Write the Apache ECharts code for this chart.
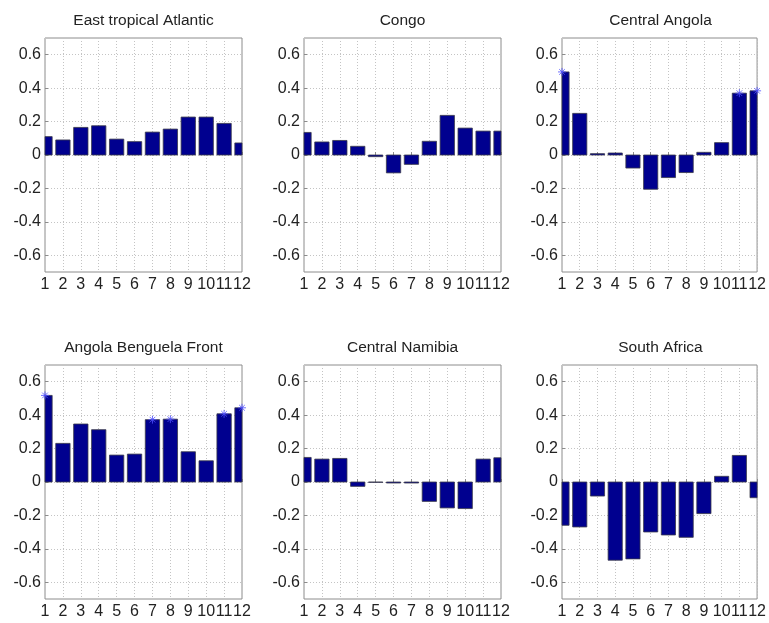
<!DOCTYPE html>
<html>
<head>
<meta charset="utf-8">
<script src="https://cdn.jsdelivr.net/npm/echarts@6/dist/echarts.min.js"></script>
<style>
  html, body { margin: 0; padding: 0; background: #fff; }
  #chart { width: 769px; height: 623px; }
</style>
</head>
<body>
<div id="chart"></div>
<script>
// Monthly correlation per region (months 1..12)
const months = [1, 2, 3, 4, 5, 6, 7, 8, 9, 10, 11, 12];
const yTicks = [-0.6, -0.4, -0.2, 0, 0.2, 0.4, 0.6];

const regionNames = [
  'East tropical Atlantic', 'Congo', 'Central Angola',
  'Angola Benguela Front', 'Central Namibia', 'South Africa'
];

const eastTropicalAtlantic = [0.11, 0.09, 0.165, 0.175, 0.095, 0.08, 0.137, 0.155, 0.227, 0.227, 0.189, 0.072];
const congo               = [0.135, 0.078, 0.087, 0.052, -0.01, -0.107, -0.056, 0.082, 0.237, 0.161, 0.143, 0.143];
const centralAngola       = [0.497, 0.249, 0.008, 0.012, -0.078, -0.205, -0.135, -0.105, 0.016, 0.074, 0.37, 0.384];
const angolaBenguelaFront = [0.518, 0.231, 0.347, 0.313, 0.161, 0.167, 0.373, 0.376, 0.181, 0.127, 0.408, 0.444];
const centralNamibia      = [0.147, 0.137, 0.141, -0.026, -0.002, -0.006, -0.006, -0.116, -0.155, -0.159, 0.137, 0.145];
const southAfrica         = [-0.259, -0.269, -0.084, -0.468, -0.46, -0.299, -0.317, -0.331, -0.189, 0.034, 0.159, -0.094];

// Months flagged as significant (drawn with an asterisk)
const eastTropicalAtlanticSig = [];
const congoSig                = [];
const centralAngolaSig        = [1, 11, 12];
const angolaBenguelaFrontSig  = [1, 7, 8, 11, 12];
const centralNamibiaSig       = [];
const southAfricaSig          = [];

const regionValues = [eastTropicalAtlantic, congo, centralAngola, angolaBenguelaFront, centralNamibia, southAfrica];
const regionSig = [eastTropicalAtlanticSig, congoSig, centralAngolaSig, angolaBenguelaFrontSig, centralNamibiaSig, southAfricaSig];

const FONT = '"Liberation Sans", Arial, sans-serif';
const colLeft = [45, 304, 562];
const rowTop = [38, 365];
const plotW = 197, plotH = 234;
const BAR_FRACTION = 0.8;

const grids = [], xAxes = [], yAxes = [], series = [], titles = [];
const starPath = 'path://M0,-5L0,5M-5,0L5,0M-3.5,-3.5L3.5,3.5M-3.5,3.5L3.5,-3.5';
const gridLine = { show: true, lineStyle: { color: '#c4c4c4', type: [1, 2], width: 1 } };

// Bars drawn from the axis scales and clipped to the plot box,
// so the first and last months show as half bars.
function renderBar(params, api) {
  const m = api.value(0), v = api.value(1);
  const base = api.coord([m, 0]);
  const top = api.coord([m, v]);
  const w = api.size([1, 0])[0] * BAR_FRACTION;
  const rect = {
    x: base[0] - w / 2,
    y: Math.min(base[1], top[1]),
    width: w,
    height: Math.abs(base[1] - top[1])
  };
  const cs = params.coordSys;
  const clipped = echarts.graphic.clipRectByRect(rect, {
    x: cs.x, y: cs.y, width: cs.width, height: cs.height
  });
  if (!clipped) return null;
  return {
    type: 'rect',
    shape: clipped,
    style: { fill: '#00008f', stroke: '#3a3a4a', lineWidth: 0.8 }
  };
}

regionNames.forEach((name, i) => {
  const col = i % 3, row = Math.floor(i / 3);
  grids.push({
    left: colLeft[col], top: rowTop[row], width: plotW, height: plotH,
    show: true, borderColor: '#8c8c8c', borderWidth: 1, backgroundColor: '#fff'
  });
  titles.push({
    text: name,
    left: colLeft[col] + plotW / 2,
    top: rowTop[row] - 25,
    padding: 0,
    textAlign: 'center',
    textStyle: { fontFamily: FONT, fontSize: 15.5, fontWeight: 'normal', color: '#222' }
  });
  xAxes.push({
    gridIndex: i, type: 'value', min: 1, max: 12, interval: 1,
    axisLine: { show: false },
    axisTick: { show: true, inside: true, length: 3, lineStyle: { color: '#8c8c8c' } },
    axisLabel: { fontFamily: FONT, fontSize: 16, color: '#222', margin: 5 },
    splitLine: gridLine
  });
  yAxes.push({
    gridIndex: i, type: 'value', min: -0.7, max: 0.7,
    axisLine: { show: false },
    axisTick: { show: true, inside: true, length: 3, customValues: yTicks,
                lineStyle: { color: '#8c8c8c' } },
    axisLabel: {
      fontFamily: FONT, fontSize: 16, color: '#222', margin: 4,
      customValues: yTicks,
      formatter: v => (Math.abs(v) < 1e-9 ? '0' : String(Math.round(v * 10) / 10))
    },
    splitLine: Object.assign({ customValues: yTicks }, gridLine)
  });
  series.push({
    type: 'custom', xAxisIndex: i, yAxisIndex: i,
    data: months.map((m, k) => [m, regionValues[i][k]]),
    renderItem: renderBar,
    encode: { x: 0, y: 1 },
    silent: true, animation: false, z: 2
  });
  if (regionSig[i].length) {
    series.push({
      type: 'scatter', xAxisIndex: i, yAxisIndex: i,
      data: regionSig[i].map(m => [m, regionValues[i][m - 1]]),
      symbol: starPath, symbolSize: 8, clip: false,
      itemStyle: { color: 'rgba(0,0,0,0)', borderColor: '#4f4fff', borderWidth: 1 },
      silent: true, animation: false, z: 5
    });
  }
});

const chart = echarts.init(document.getElementById('chart'), null, { renderer: 'canvas' });
chart.setOption({
  animation: false,
  backgroundColor: '#fff',
  title: titles,
  grid: grids,
  xAxis: xAxes,
  yAxis: yAxes,
  series: series
});
</script>
</body>
</html>
